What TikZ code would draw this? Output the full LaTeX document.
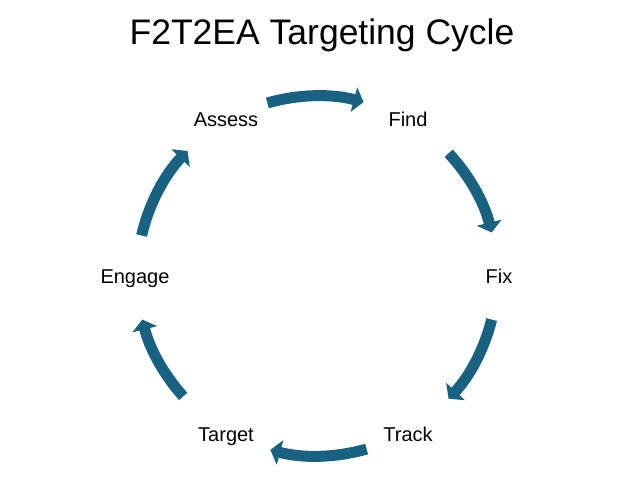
\documentclass[tikz,border=0pt]{standalone}
\usepackage{fontspec}
\setmainfont{Liberation Sans}
\usepackage{tikz}
\usetikzlibrary{arrows.meta}
\definecolor{cyclecol}{RGB}{24,97,128}
\tikzstyle{label} = [anchor=base,inner sep=0,font=\fontsize{20}{24}\selectfont]
\tikzstyle{cyc} = [draw=cyclecol,line width=11pt,-{Triangle[length=10pt,width=25pt]}]

\begin{document}
\begin{tikzpicture}[x=1pt,y=1pt,title/.style={anchor=base,inner sep=0,font=\fontsize{35.5}{40}\selectfont}]
    \useasboundingbox (-317,-201) rectangle (316,276);

    \node[title] (T) at (5,231) {F2T2EA Targeting Cycle};

    \node[label] (Find) at ([yshift=-8]60:182) {Find};
    \node[label] (Fix) at ([yshift=-8]0:182) {Fix};
    \node[label] (Track) at ([yshift=-8]-60:182) {Track};
    \node[label] (Target) at ([yshift=-8]-120:182) {Target};
    \node[label] (Engage) at ([yshift=-8]180:182) {Engage};
    \node[label] (Assess) at ([yshift=-8]120:182) {Assess};

    \coordinate (a1) at (106:180); \coordinate (b1) at (75:180);
    \coordinate (a2) at (43:180); \coordinate (b2) at (14:180);
    \coordinate (a3) at (-14:180); \coordinate (b3) at (-43:180);
    \coordinate (a4) at (-74:180); \coordinate (b4) at (-105:180);
    \coordinate (a5) at (-138:180); \coordinate (b5) at (-166:180);
    \coordinate (a6) at (167:180); \coordinate (b6) at (136:180);

    \draw[cyc] (a1) to[bend left=15.5,looseness=0.87] (b1);
    \draw[cyc] (a2) to[bend left=14.5,looseness=0.87] (b2);
    \draw[cyc] (a3) to[bend left=14.5,looseness=0.87] (b3);
    \draw[cyc] (a4) to[bend left=15.5,looseness=0.87] (b4);
    \draw[cyc] (a5) to[bend left=14,looseness=0.87] (b5);
    \draw[cyc] (a6) to[bend left=15.5,looseness=0.87] (b6);

\end{tikzpicture}
\end{document}
